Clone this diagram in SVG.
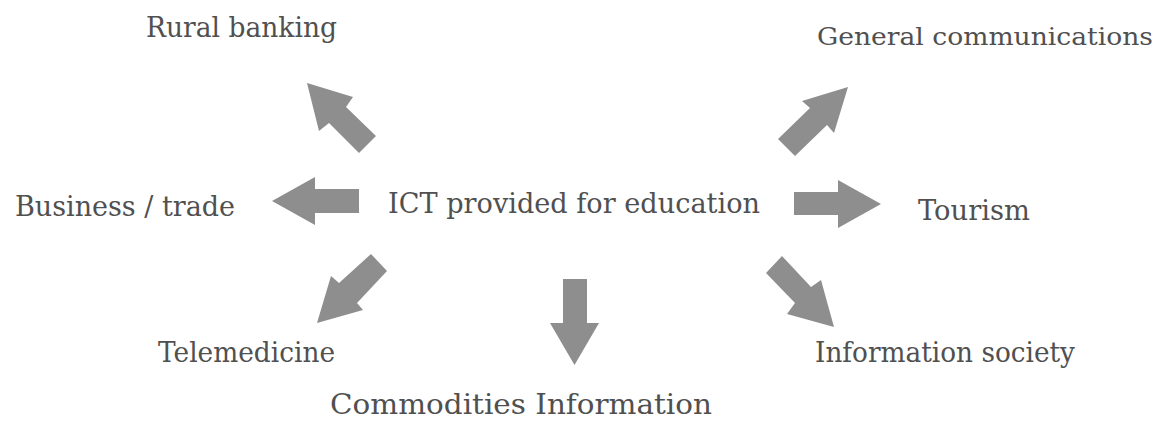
<svg xmlns="http://www.w3.org/2000/svg" width="1165" height="433" viewBox="0 0 1165 433">
<style>
.t{font-family:"DejaVu Serif",serif;font-size:28px;fill:#505050}
.a{fill:#8e8e8e}
</style>
<rect width="1165" height="433" fill="#ffffff"/>
<g id="center"><text class="t" x="388" y="213" textLength="372" lengthAdjust="spacingAndGlyphs">ICT provided for education</text></g>
<g id="rural"><text class="t" x="146" y="37" textLength="191" lengthAdjust="spacingAndGlyphs">Rural banking</text></g>
<g id="general"><text class="t" x="817" y="45" style="font-size:25px" textLength="336" lengthAdjust="spacingAndGlyphs">General communications</text></g>
<g id="business"><text class="t" x="15" y="216" textLength="220" lengthAdjust="spacingAndGlyphs">Business / trade</text></g>
<g id="tourism"><text class="t" x="918" y="220" textLength="112" lengthAdjust="spacingAndGlyphs">Tourism</text></g>
<g id="telemedicine"><text class="t" x="158" y="362" textLength="177" lengthAdjust="spacingAndGlyphs">Telemedicine</text></g>
<g id="commodities"><text class="t" x="330" y="414" textLength="382" lengthAdjust="spacingAndGlyphs">Commodities Information</text></g>
<g id="society"><text class="t" x="815" y="362" textLength="260" lengthAdjust="spacingAndGlyphs">Information society</text></g>
<g id="connectors">
<polygon class="a" points="307,83 353,97 346,107 376,136 359,153 329,123 319,131"/>
<polygon class="a" points="272,201 315,177 315,189 359,189 359,213 315,213 315,225"/>
<polygon class="a" points="317,323 331,276 339,283 371,254 387,271 357,303 363,310"/>
<polygon class="a" points="563,279 587,279 587,323 599,323 574.5,365 550,323 563,323"/>
<polygon class="a" points="848,87 834,133 827,125 795,156 778,139 810,108 802,101"/>
<polygon class="a" points="794,192 838,192 838,180 881,204 838,228 838,215 794,215"/>
<polygon class="a" points="834,327 787,314 795,303 766,273 782,256 811,287 821,280"/>
</g>
</svg>
